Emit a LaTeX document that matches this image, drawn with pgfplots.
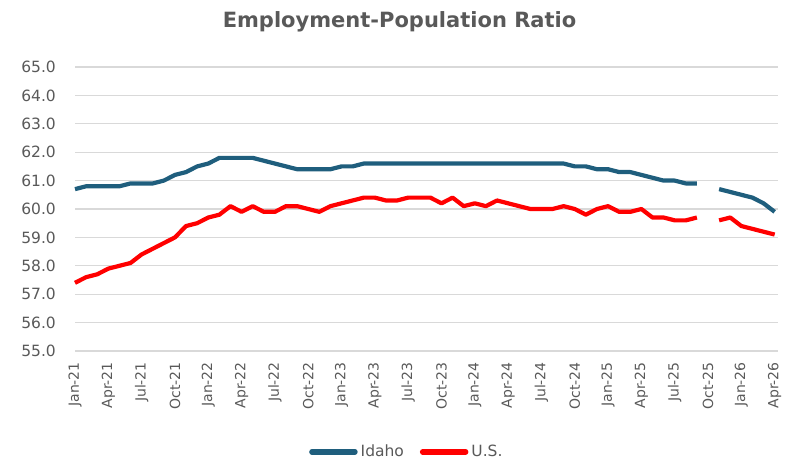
\documentclass[border=0pt]{standalone}
\usepackage{pgfplots}
\pgfplotsset{compat=1.18}
\usepackage{pgfplotstable}
\usepackage{fontspec}
\setmainfont{DejaVu Sans}
\definecolor{txtgray}{HTML}{595959}
\definecolor{gridgray}{HTML}{D9D9D9}
\definecolor{idaho}{RGB}{31,94,125}
\definecolor{usred}{HTML}{FF0000}

\pgfplotstableread{
i idaho us
0 60.7 57.4
1 60.8 57.6
2 60.8 57.7
3 60.8 57.9
4 60.8 58.0
5 60.9 58.1
6 60.9 58.4
7 60.9 58.6
8 61.0 58.8
9 61.2 59.0
10 61.3 59.4
11 61.5 59.5
12 61.6 59.7
13 61.8 59.8
14 61.8 60.1
15 61.8 59.9
16 61.8 60.1
17 61.7 59.9
18 61.6 59.9
19 61.5 60.1
20 61.4 60.1
21 61.4 60.0
22 61.4 59.9
23 61.4 60.1
24 61.5 60.2
25 61.5 60.3
26 61.6 60.4
27 61.6 60.4
28 61.6 60.3
29 61.6 60.3
30 61.6 60.4
31 61.6 60.4
32 61.6 60.4
33 61.6 60.2
34 61.6 60.4
35 61.6 60.1
36 61.6 60.2
37 61.6 60.1
38 61.6 60.3
39 61.6 60.2
40 61.6 60.1
41 61.6 60.0
42 61.6 60.0
43 61.6 60.0
44 61.6 60.1
45 61.5 60.0
46 61.5 59.8
47 61.4 60.0
48 61.4 60.1
49 61.3 59.9
50 61.3 59.9
51 61.2 60.0
52 61.1 59.7
53 61.0 59.7
54 61.0 59.6
55 60.9 59.6
56 60.9 59.7
57 nan nan
58 60.7 59.6
59 60.6 59.7
60 60.5 59.4
61 60.4 59.3
62 60.2 59.2
63 59.9 59.1
}\datatable

\begin{document}
\begin{tikzpicture}[x=1pt,y=1pt]
\path[use as bounding box] (0,0) rectangle (790,461);
\node[anchor=base, text=txtgray, font=\fontsize{21}{25}\selectfont\bfseries] at (399.5,433.5) {Employment-Population Ratio};
\begin{axis}[
  at={(75pt,110pt)}, anchor=south west,
  scale only axis, width=703pt, height=284pt,
  xmin=0, xmax=63.3, ymin=55, ymax=65,
  axis line style={draw=none},
  major tick length=0pt,
  ymajorgrids, grid style={gridgray, line width=1.3pt},
  ytick={55,56,...,65},
  /pgf/number format/fixed,
  /pgf/number format/fixed zerofill,
  /pgf/number format/precision=1,
  /pgf/number format/assume math mode=true,
  yticklabel style={font=\fontsize{15.5}{18}\selectfont, text=txtgray, anchor=east, inner sep=0pt},
  yticklabel shift=19pt,
  xtick={0,3,...,63},
  xticklabels={Jan-21,Apr-21,Jul-21,Oct-21,Jan-22,Apr-22,Jul-22,Oct-22,Jan-23,Apr-23,Jul-23,Oct-23,Jan-24,Apr-24,Jul-24,Oct-24,Jan-25,Apr-25,Jul-25,Oct-25,Jan-26,Apr-26},
  xticklabel style={font=\fontsize{14}{16}\selectfont, text=txtgray, rotate=90, anchor=east, inner sep=0pt},
  xticklabel shift=11pt,
  unbounded coords=jump,
  legend columns=2,
  legend style={at={(0.472,-0.355)}, anchor=center, draw=none, fill=none,
    font=\fontsize{15.5}{18}\selectfont, text=txtgray,
    /tikz/every even column/.append style={column sep=14pt},
    /tikz/every odd column/.append style={column sep=1pt}},
  legend image code/.code={\draw[#1, line width=5.5pt, line cap=round] (2pt,0pt) -- (45pt,0pt);},
  clip=false,
]
\addplot[idaho, line width=4.2pt, line join=round] table[x=i, y=idaho] {\datatable};
\addlegendentry{Idaho}
\addplot[usred, line width=4.2pt, line join=round] table[x=i, y=us] {\datatable};
\addlegendentry{U.S.}
\end{axis}
\end{tikzpicture}
\end{document}
